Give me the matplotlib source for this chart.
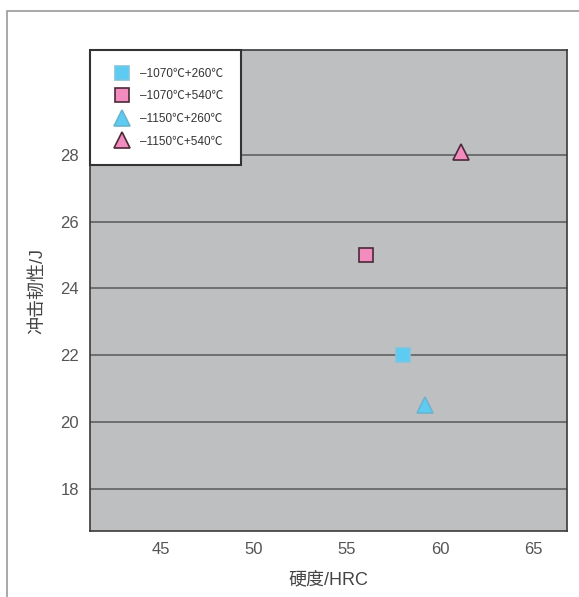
import matplotlib.pyplot as plt
from matplotlib.patches import Rectangle

plt.rcParams['font.family'] = ['Liberation Sans', 'Noto Sans CJK SC', 'DejaVu Sans']

# 数据
labels = ['–1070℃+260℃', '–1070℃+540℃', '–1150℃+260℃', '–1150℃+540℃']
hardness = [58.0, 56.0, 59.2, 61.1]
impact = [22.0, 25.0, 20.5, 28.1]
markers = ['s', 's', '^', '^']
colors = ['#5ecbf2', '#f28cbf', '#5ecbf2', '#f28cbf']
edges = ['#7fc6e0', '#4a2a38', '#6ab4d0', '#4a2a38']
sizes = [10, 10, 12, 12]

xticks = [45, 50, 55, 60, 65]
yticks = [18, 20, 22, 24, 26, 28]

fig = plt.figure(figsize=(5.79, 5.97), dpi=100)
ax = fig.add_axes([0.1554, 0.1106, 0.8236, 0.8056])

# moldura externa
fig.patches.append(Rectangle((0.012, -0.05), 1.1, 0.0316 + 1.0, transform=fig.transFigure,
                             fill=False, edgecolor='#9a9a9a', linewidth=1.2))

ax.set_facecolor('#bdbfc1')
for y in yticks:
    ax.axhline(y, color='#5f6163', linewidth=1.2, zorder=1)

for x, y, m, c, e, s, lab in zip(hardness, impact, markers, colors, edges, sizes, labels):
    ax.plot(x, y, linestyle='none', marker=m, markersize=s, markerfacecolor=c,
            markeredgecolor=e, markeredgewidth=1.2, label=lab, zorder=3)

ax.set_xlim(41.2, 66.8)
ax.set_ylim(16.74, 31.14)
ax.set_xticks(xticks)
ax.set_yticks(yticks)
ax.tick_params(length=0, labelsize=12, colors='#555555', pad=8)
for sp in ax.spines.values():
    sp.set_color('#3a3a3a')
    sp.set_linewidth(1.2)

ax.set_xlabel('硬度/HRC', fontsize=13, color='#444444', labelpad=10)
ax.set_ylabel('冲击韧性/J', fontsize=13, color='#444444', labelpad=10)

leg = ax.legend(loc='upper left', bbox_to_anchor=(0, 1), borderaxespad=0, fontsize=8.5,
                frameon=True, fancybox=False, framealpha=1, edgecolor='#333333',
                borderpad=1.5, labelspacing=0.9, handletextpad=0.3, handlelength=2.4,
                markerscale=1.0)
leg.get_frame().set_linewidth(1.5)
for t in leg.get_texts():
    t.set_color('#333333')

fig.savefig('out.png', dpi=100)
